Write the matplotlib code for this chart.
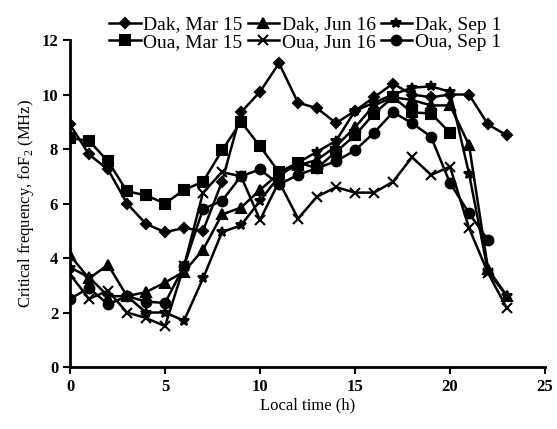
import matplotlib
matplotlib.use("Agg")
from matplotlib import pyplot as plt

plt.rcParams['font.family'] = ['Liberation Serif', 'DejaVu Serif']
plt.rcParams['mathtext.fontset'] = 'custom'
plt.rcParams['mathtext.rm'] = 'Liberation Serif'

hours = list(range(24))

dak_mar15 = [8.9, 7.8, 7.25, 6.0, 5.25, 4.95, 5.1, 5.0, 6.8, 9.35, 10.1, 11.15,
             9.7, 9.5, 8.95, 9.4, 9.9, 10.4, 10.0, 9.9, 10.0, 10.0, 8.9, 8.5]
dak_jun16 = [4.1, 3.25, 3.75, 2.6, 2.75, 3.1, 3.5, 4.3, 5.6, 5.85, 6.5, 7.1,
             7.4, 7.6, 8.1, 8.8, 9.6, 9.9, 9.8, 9.6, 9.6, 8.15, 3.6, 2.6]
dak_sep1 = [3.65, 3.3, 2.6, 2.6, 2.0, 2.0, 1.7, 3.25, 4.95, 5.2, 6.1, 7.0,
            7.5, 7.9, 8.3, 9.4, 9.7, 10.0, 10.25, 10.3, 10.1, 7.1, 3.5, 2.6]
oua_mar15 = [8.4, 8.3, 7.55, 6.45, 6.3, 6.0, 6.5, 6.8, 7.95, 9.0, 8.1, 7.15,
             7.5, 7.3, 7.9, 8.5, 9.3, 9.9, 9.35, 9.3, 8.6]
oua_jun16 = [3.4, 2.5, 2.8, 2.0, 1.8, 1.5, 3.7, 6.4, 7.15, 7.0, 5.4, 6.8,
             5.45, 6.25, 6.6, 6.4, 6.4, 6.8, 7.7, 7.05, 7.35, 5.1, 3.45, 2.15]
oua_sep1 = [2.5, 2.9, 2.3, 2.6, 2.4, 2.35, 3.7, 5.8, 6.1, 7.0, 7.25, 6.7,
            7.05, 7.3, 7.55, 7.95, 8.6, 9.35, 8.95, 8.45, 6.75, 5.65, 4.65]

series = [
    ('Dak, Mar 15', dak_mar15, 'D', 5.5),
    ('Dak, Jun 16', dak_jun16, '^', 7),
    ('Dak, Sep 1', dak_sep1, '*', 7),
    ('Oua, Mar 15', oua_mar15, 's', 7.5),
    ('Oua, Jun 16', oua_jun16, 'x', 7),
    ('Oua, Sep 1', oua_sep1, 'o', 7),
]

fig = plt.figure(figsize=(5.57, 4.29), dpi=100)
ax = fig.add_axes([0.1257, 0.1445, 0.8528, 0.7622])

for label, vals, mk, ms in series:
    ax.plot(hours[:len(vals)], vals, color='black', lw=1.8, marker=mk,
            markersize=ms, markeredgewidth=1.5, label=label)

ax.set_xlim(0, 25)
ax.set_ylim(0, 12)
ax.set_xticks([0, 5, 10, 15, 20, 25])
ax.set_yticks([0, 2, 4, 6, 8, 10, 12])
for side in ['top', 'right']:
    ax.spines[side].set_visible(False)
for side in ['left', 'bottom']:
    ax.spines[side].set_linewidth(2)
ax.tick_params(width=1.5, length=5, labelsize=12)
for t in ax.get_xticklabels() + ax.get_yticklabels():
    t.set_fontweight('bold')

ax.set_xlabel('Local time (h)', fontsize=12, labelpad=2)
ax.set_ylabel('Critical frequency, foF$_2$ (MHz)', fontsize=12, labelpad=4)

# legend fills column by column, so interleave Dak/Oua to get rows by site
handles, labels = ax.get_legend_handles_labels()
order = [0, 3, 1, 4, 2, 5]
fig.legend([handles[i] for i in order], [labels[i] for i in order],
           ncol=3, loc='upper center', bbox_to_anchor=(0.548, 0.99),
           frameon=False, fontsize=14, handlelength=1.6, handletextpad=0.15,
           columnspacing=0.25, labelspacing=0.0, borderaxespad=0.2)

fig.savefig('out.png', dpi=100)
